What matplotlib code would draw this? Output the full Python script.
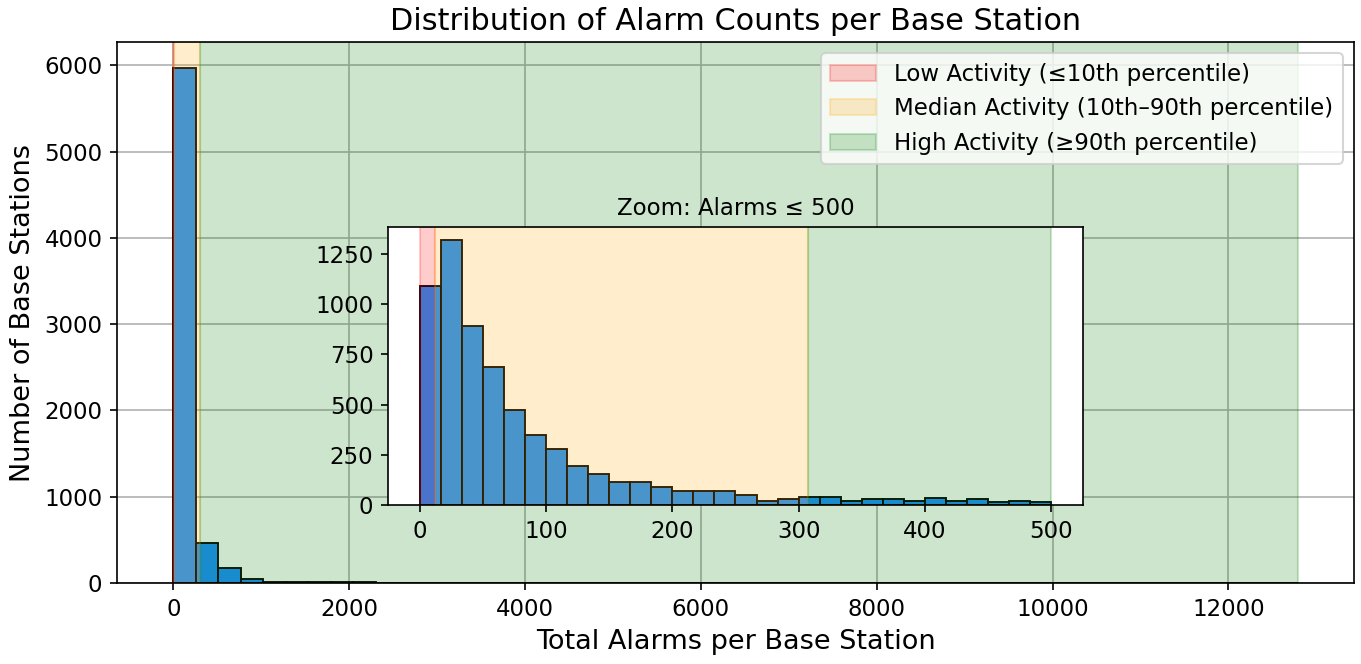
import numpy as np
import matplotlib.pyplot as plt

# Histogram counts (50 bins over 0..max_alarms)
max_alarms = 12790
main_counts = [5973, 458, 176, 48, 17, 12, 9, 8, 7, 1,
               1, 0, 0, 1, 0, 0, 0, 0, 0, 0,
               0, 0, 0, 0, 0, 0, 0, 0, 0, 0,
               0, 0, 0, 0, 0, 0, 0, 0, 0, 0,
               0, 0, 0, 0, 0, 0, 0, 0, 0, 1]

# Zoomed histogram (30 bins over 0..500)
zoom_max = 500
zoom_counts = [1092, 1319, 892, 689, 472, 347, 279, 195, 155, 112,
               115, 90, 70, 70, 70, 52, 22, 32, 38, 40,
               22, 28, 28, 22, 33, 22, 28, 15, 20, 17]

# Percentile thresholds
p10 = 12
p90 = 307

labels = ['Low Activity (≤10th percentile)',
          'Median Activity (10th–90th percentile)',
          'High Activity (≥90th percentile)']

fig = plt.figure(figsize=(1361 / 150, 664 / 150), dpi=150)
ax = fig.add_axes([0.086, 0.122, 0.9089, 0.8147])

edges = np.linspace(0, max_alarms, len(main_counts) + 1)
ax.bar(edges[:-1], main_counts, width=np.diff(edges), align='edge',
       color='dodgerblue', edgecolor='black', linewidth=0.9)
ax.axvspan(0, p10, color='red', alpha=0.2, label=labels[0])
ax.axvspan(p10, p90, color='orange', alpha=0.2, label=labels[1])
ax.axvspan(p90, max_alarms, color='green', alpha=0.2, label=labels[2])
ax.set_axisbelow(True)
ax.grid(True)
ax.tick_params(labelsize=11)
ax.set_title('Distribution of Alarm Counts per Base Station', fontsize=14.5)
ax.set_xlabel('Total Alarms per Base Station', fontsize=13)
ax.set_ylabel('Number of Base Stations', fontsize=13)
ax.legend(loc='upper right', fontsize=11)

# Inset
axins = fig.add_axes([0.2851, 0.2395, 0.5106, 0.4186])
zedges = np.linspace(0, zoom_max, len(zoom_counts) + 1)
axins.bar(zedges[:-1], zoom_counts, width=np.diff(zedges), align='edge',
          color='dodgerblue', edgecolor='black', linewidth=0.9)
axins.axvspan(0, p10, color='red', alpha=0.2)
axins.axvspan(p10, p90, color='orange', alpha=0.2)
axins.axvspan(p90, zoom_max, color='green', alpha=0.2)
axins.tick_params(labelsize=11)
axins.set_title('Zoom: Alarms ≤ 500', fontsize=11)

fig.savefig('out.png', dpi=150)
